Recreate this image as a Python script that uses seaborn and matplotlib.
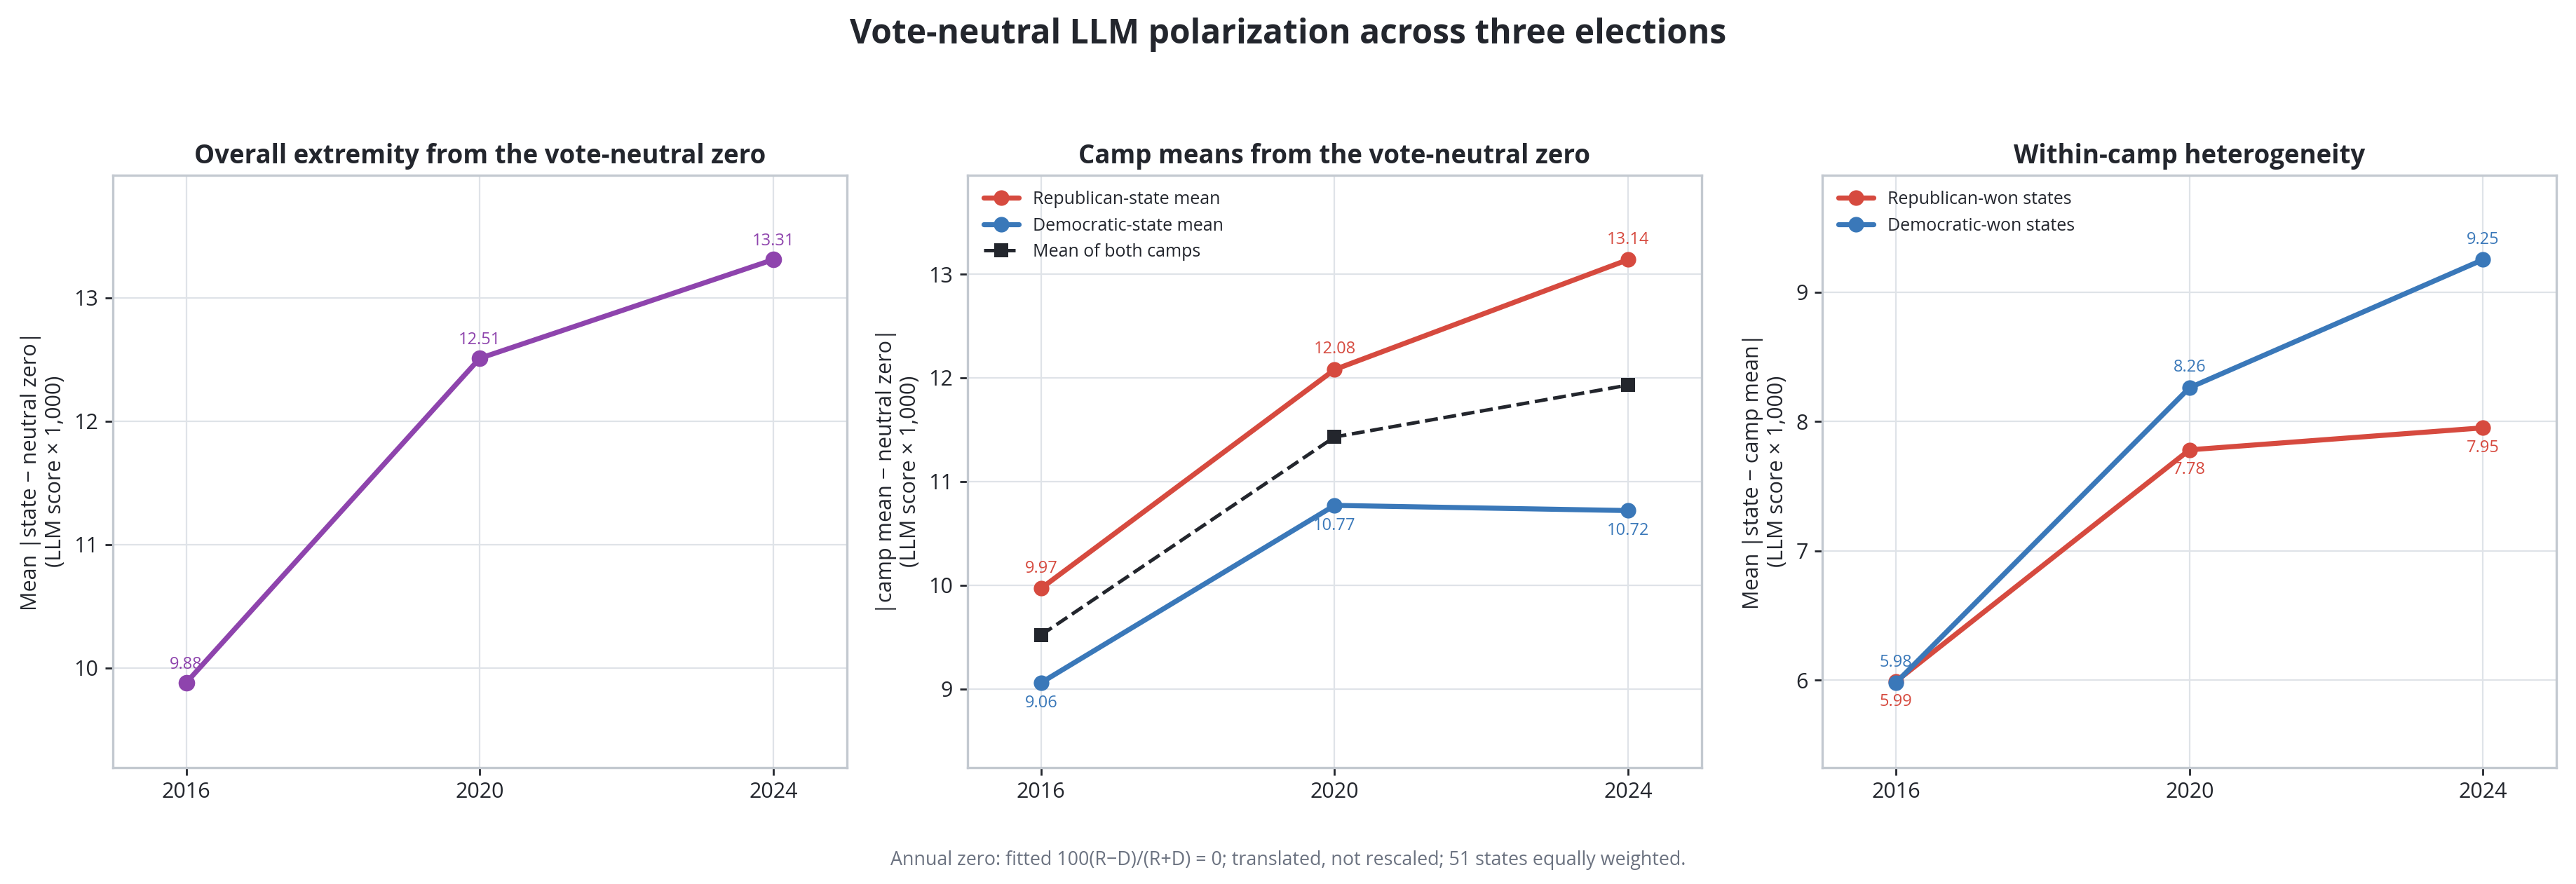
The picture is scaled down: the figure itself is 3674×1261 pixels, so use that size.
import pandas as pd
import matplotlib.pyplot as plt
import seaborn as sns

# datos
years = [2016, 2020, 2024]
overall = [9.88, 12.51, 13.31]
rep_mean = [9.97, 12.08, 13.14]
dem_mean = [9.06, 10.77, 10.72]
both_mean = [9.52, 11.43, 11.93]
rep_het = [5.99, 7.78, 7.95]
dem_het = [5.98, 8.26, 9.25]

PURPLE = '#8e44ad'
RED = '#d64a3f'
BLUE = '#3a78b9'
DARK = '#23262d'

sns.set_theme(style='whitegrid')
plt.rcParams['font.family'] = ['Open Sans', 'DejaVu Sans']
plt.rcParams.update({
    'axes.edgecolor': '#c3c9d0',
    'axes.linewidth': 1.2,
    'grid.color': '#dfe3e8',
    'grid.linewidth': 0.8,
    'xtick.bottom': True,
    'ytick.left': True,
    'xtick.color': DARK,
    'ytick.color': DARK,
    'text.color': DARK,
    'axes.labelcolor': DARK,
})

fig, axes = plt.subplots(1, 3, figsize=(18.37, 6.305), dpi=200)
fig.subplots_adjust(left=0.0438, right=0.9924, bottom=0.132, top=0.802, wspace=0.165)


def etiquetas(ax, vals, color, dy):
    for x, v in zip(years, vals):
        ax.annotate(f'{v:.2f}', (x, v), xytext=(0, dy), textcoords='offset points',
                    ha='center', va='bottom' if dy > 0 else 'top', fontsize=8.5, color=color)


def limites(ax, *series):
    todos = [v for s in series for v in s]
    lo, hi = min(todos), max(todos)
    pad = 0.2 * (hi - lo)
    ax.set_ylim(lo - pad, hi + pad)
    ax.set_xlim(2015, 2025)
    ax.set_xticks(years)
    ax.tick_params(labelsize=11, length=4, width=1)


# 1. extremidad total
ax = axes[0]
sns.lineplot(x=years, y=overall, ax=ax, color=PURPLE, linewidth=2.6, marker='o',
             markersize=8.5, markeredgewidth=0)
etiquetas(ax, overall, PURPLE, 5)
limites(ax, overall)
ax.set_title('Overall extremity from the vote-neutral zero', fontsize=13.2, fontweight='bold')
ax.set_ylabel('Mean |state − neutral zero|\n(LLM score × 1,000)', fontsize=11)

# 2. medias por campo
ax = axes[1]
sns.lineplot(x=years, y=rep_mean, ax=ax, color=RED, linewidth=2.6, marker='o',
             markersize=8, markeredgewidth=0, label='Republican-state mean')
sns.lineplot(x=years, y=dem_mean, ax=ax, color=BLUE, linewidth=2.6, marker='o',
             markersize=8, markeredgewidth=0, label='Democratic-state mean')
sns.lineplot(x=years, y=both_mean, ax=ax, color=DARK, linewidth=1.8, linestyle='--',
             marker='s', markersize=7, markeredgewidth=0, label='Mean of both camps')
etiquetas(ax, rep_mean, RED, 6)
etiquetas(ax, dem_mean, BLUE, -6)
limites(ax, rep_mean, dem_mean)
ax.set_title('Camp means from the vote-neutral zero', fontsize=13.2, fontweight='bold')
ax.set_ylabel('|camp mean − neutral zero|\n(LLM score × 1,000)', fontsize=11)
ax.legend(loc='upper left', frameon=False, fontsize=9)

# 3. heterogeneidad interna
ax = axes[2]
sns.lineplot(x=years, y=rep_het, ax=ax, color=RED, linewidth=2.6, marker='o',
             markersize=8, markeredgewidth=0, label='Republican-won states')
sns.lineplot(x=years, y=dem_het, ax=ax, color=BLUE, linewidth=2.6, marker='o',
             markersize=8, markeredgewidth=0, label='Democratic-won states')
etiquetas(ax, rep_het, RED, -6)
etiquetas(ax, dem_het, BLUE, 6)
limites(ax, rep_het, dem_het)
ax.set_title('Within-camp heterogeneity', fontsize=13.2, fontweight='bold')
ax.set_ylabel('Mean |state − camp mean|\n(LLM score × 1,000)', fontsize=11)
ax.legend(loc='upper left', frameon=False, fontsize=9)

for ax in axes:
    ax.set_xlabel('')

fig.suptitle('Vote-neutral LLM polarization across three elections', fontsize=17.3,
             fontweight='bold', y=0.98)
fig.text(0.5, 0.027, 'Annual zero: fitted 100(R−D)/(R+D) = 0; translated, not rescaled; '
         '51 states equally weighted.', ha='center', va='center', fontsize=9.7, color='#6b7280')

plt.savefig('out.png', dpi=200)
